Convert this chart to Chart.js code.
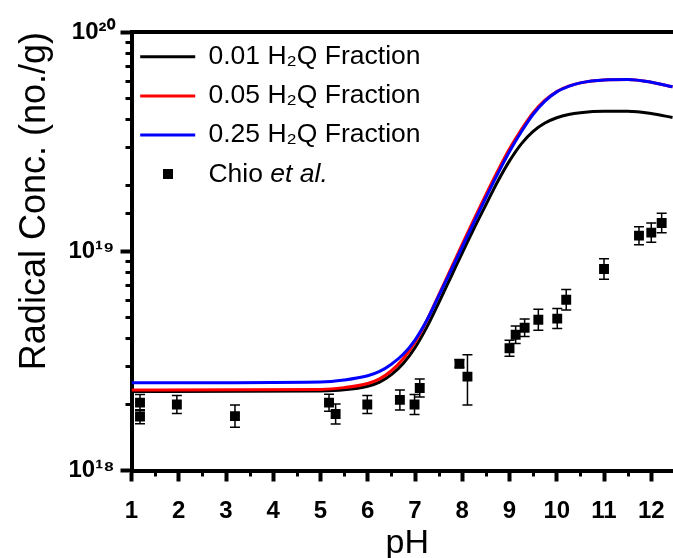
<!DOCTYPE html>
<html><head><meta charset="utf-8">
<script src="https://cdn.jsdelivr.net/npm/chart.js@4/dist/chart.umd.min.js"></script>
<style>
html,body{margin:0;padding:0;background:#fff;overflow:hidden;}
#wrap{width:673px;height:558px;overflow:hidden;position:relative;background:#fff;}
canvas{display:block;}
</style></head><body>
<div id="wrap"><canvas id="c" width="690" height="558"></canvas></div>
<script>
// ---------- data ----------
const curvePH = [1, 5, 5.5, 6, 6.25, 6.5, 6.75, 7, 7.25, 7.5, 7.75, 8, 8.25, 8.5, 8.75, 9, 9.25, 9.5, 9.75, 10, 10.25, 10.5, 11, 11.5, 12, 12.45];
const frac001 = [2.291e18, 2.307e18, 2.333e18, 2.421e18, 2.529e18, 2.735e18, 3.076e18, 3.631e18, 4.508e18, 5.808e18, 7.551e18, 9.840e18, 1.2735e19, 1.6293e19, 2.0797e19, 2.5823e19, 3.0903e19, 3.5237e19, 3.8459e19, 4.0644e19, 4.2073e19, 4.2855e19, 4.3451e19, 4.3451e19, 4.2462e19, 4.0738e19];
const frac005 = [2.328e18, 2.344e18, 2.388e18, 2.495e18, 2.618e18, 2.851e18, 3.236e18, 3.846e18, 4.831e18, 6.310e18, 8.241e18, 1.0765e19, 1.3996e19, 1.8113e19, 2.3227e19, 2.9309e19, 3.5892e19, 4.2855e19, 4.8865e19, 5.3580e19, 5.6624e19, 5.8614e19, 6.04e19, 6.067e19, 5.902e19, 5.623e19];
const frac025 = [2.51e18, 2.535e18, 2.588e18, 2.704e18, 2.831e18, 3.055e18, 3.388e18, 3.936e18, 4.842e18, 6.237e18, 8.072e18, 1.047e19, 1.358e19, 1.758e19, 2.254e19, 2.851e19, 3.508e19, 4.217e19, 4.842e19, 5.333e19, 5.649e19, 5.861e19, 6.04e19, 6.067e19, 5.902e19, 5.623e19];

const chioPH   = [1.18, 1.18, 1.96, 3.19, 5.18, 5.32, 5.99, 6.68, 6.99, 7.10, 7.94, 8.11, 9.00, 9.13, 9.32, 9.61, 10.01, 10.20, 11.00, 11.74, 12.00, 12.22];
const chioVal  = [2.04e18, 1.76e18, 2.00e18, 1.77e18, 2.04e18, 1.81e18, 2.00e18, 2.10e18, 2.00e18, 2.38e18, 3.07e18, 2.68e18, 3.61e18, 4.16e18, 4.48e18, 4.87e18, 4.93e18, 6.01e18, 8.30e18, 1.178e19, 1.216e19, 1.345e19];
const chioLow  = [1.875e18, 1.635e18, 1.82e18, 1.575e18, 1.865e18, 1.63e18, 1.82e18, 1.89e18, 1.80e18, 2.165e18, 2.95e18, 1.99e18, 3.32e18, 3.80e18, 4.09e18, 4.36e18, 4.44e18, 5.40e18, 7.45e18, 1.072e19, 1.10e19, 1.214e19];
const chioHigh = [2.22e18, 1.895e18, 2.20e18, 1.99e18, 2.23e18, 2.01e18, 2.20e18, 2.33e18, 2.22e18, 2.615e18, 3.20e18, 3.37e18, 3.93e18, 4.56e18, 4.91e18, 5.44e18, 5.48e18, 6.69e18, 9.25e18, 1.295e19, 1.344e19, 1.49e19];

const seriesLabels = ['0.01 H\u2082Q Fraction', '0.05 H\u2082Q Fraction', '0.25 H\u2082Q Fraction', 'Chio'];
const chioItalic = 'et al.';
const seriesColors = ['#000000', '#ff0000', '#0000ff', '#000000'];
const xTitle = 'pH';
const yTitle = 'Radical Conc. (no./g)';
const xMin = 1, xMax = 12.67, xStep = 0.5;
const yMin = 1e18, yMax = 1e20;

// ---------- helpers ----------
const FAM = '"Liberation Sans", Arial, Helvetica, sans-serif';
const SUP = {'0':'\u2070','1':'\u00b9','2':'\u00b2','3':'\u00b3','4':'\u2074','5':'\u2075','6':'\u2076','7':'\u2077','8':'\u2078','9':'\u2079','-':'\u207b'};
const sup = (n) => String(n).split('').map(c => SUP[c]).join('');
const isDecade = (v) => { const e = Math.round(Math.log10(v)); return Math.abs(v / Math.pow(10, e) - 1) < 1e-6; };
const isWhole = (v) => Math.abs(v - Math.round(v)) < 1e-9;

const LEG_FS = 26.5, LEG_PAD = 12.7, LEG_W = 55;
const sq = document.createElement('canvas');
sq.width = 10; sq.height = 10;
(function(){ const c = sq.getContext('2d'); c.fillStyle = '#000'; c.fillRect(0, 0, 10, 10); })();

const pts = (xs, ys) => xs.map((x, i) => ({x: x, y: ys[i]}));

Chart.defaults.font.family = FAM;
Chart.defaults.color = '#000';

const legendShift = {
  id: 'legendShift',
  afterLayout(chart) {
    const lg = chart.legend; if (!lg) return;
    const a = chart.chartArea;
    const h = lg.bottom - lg.top, w = lg.right - lg.left;
    lg.left = a.left - 4; lg.right = lg.left + w;
    lg.top = a.top - 1.25; lg.bottom = lg.top + h;
  }
};

const errorBars = {
  id: 'errorBars',
  beforeDatasetDraw(chart, args) {
    if (args.index !== 3) return;
    const {ctx, scales: {x, y}} = chart;
    ctx.save();
    ctx.strokeStyle = '#000'; ctx.lineWidth = 1.5;
    chioPH.forEach((p, i) => {
      const px = x.getPixelForValue(p);
      const yl = y.getPixelForValue(chioLow[i]);
      const yh = y.getPixelForValue(chioHigh[i]);
      ctx.beginPath();
      ctx.moveTo(px, yl); ctx.lineTo(px, yh);
      ctx.moveTo(px - 5, yl); ctx.lineTo(px + 5, yl);
      ctx.moveTo(px - 5, yh); ctx.lineTo(px + 5, yh);
      ctx.stroke();
    });
    ctx.restore();
  }
};

const frameAndMinor = {
  id: 'frameAndMinor',
  afterDraw(chart) {
    const {ctx, chartArea: a, scales: {x, y}} = chart;
    ctx.save();
    ctx.strokeStyle = '#000';
    // top frame
    ctx.lineWidth = 4;
    ctx.beginPath(); ctx.moveTo(a.left, a.top); ctx.lineTo(chart.width, a.top); ctx.stroke();
    // minor ticks
    ctx.lineWidth = 3;
    ctx.beginPath();
    y.ticks.forEach(t => {
      if (isDecade(t.value)) return;
      const py = Math.round(y.getPixelForValue(t.value)) + 0.5;
      ctx.moveTo(a.left - 6, py); ctx.lineTo(a.left, py);
    });
    x.ticks.forEach(t => {
      if (isWhole(t.value)) return;
      const px = Math.round(x.getPixelForValue(t.value)) + 0.5;
      ctx.moveTo(px, a.bottom); ctx.lineTo(px, a.bottom + 6);
    });
    ctx.stroke();
    // italic part of the last legend entry
    const lg = chart.legend;
    const lineH = LEG_FS + LEG_PAD;
    const ty = lg.top + LEG_PAD + 3 * lineH + LEG_FS / 2;
    const tx = lg.left + LEG_PAD + LEG_W + LEG_FS / 2;
    ctx.font = LEG_FS + 'px ' + FAM;
    const w = ctx.measureText(seriesLabels[3] + ' ').width;
    ctx.font = 'italic ' + LEG_FS + 'px ' + FAM;
    ctx.fillStyle = '#000'; ctx.textBaseline = 'middle'; ctx.textAlign = 'left';
    ctx.fillText(chioItalic, tx + w, ty);
    ctx.restore();
  }
};

const lineDs = (i, ys, order) => ({
  type: 'line', label: seriesLabels[i], data: pts(curvePH, ys),
  borderColor: seriesColors[i], backgroundColor: seriesColors[i], borderWidth: 3,
  pointRadius: 0, pointHoverRadius: 0, fill: false, cubicInterpolationMode: 'monotone', order: order
});

new Chart(document.getElementById('c'), {
  type: 'line',
  data: {
    datasets: [
      lineDs(0, frac001, 3),
      lineDs(1, frac005, 2),
      lineDs(2, frac025, 1),
      {
        type: 'line', label: seriesLabels[3], data: pts(chioPH, chioVal), showLine: false,
        pointStyle: 'rect', pointRadius: 7, pointHoverRadius: 7, borderWidth: 0,
        backgroundColor: seriesColors[3], borderColor: seriesColors[3], order: 0
      }
    ]
  },
  options: {
    responsive: false, animation: false, devicePixelRatio: 1,
    layout: {padding: {top: 32, right: 6.5, left: 0, bottom: 0}},
    plugins: {
      tooltip: {enabled: false},
      legend: {
        position: 'chartArea', align: 'start',
        labels: {
          usePointStyle: true, pointStyleWidth: LEG_W, padding: LEG_PAD, color: '#000',
          font: {size: LEG_FS, family: FAM},
          generateLabels: (chart) => chart.data.datasets.map((ds, i) => ({
            text: ds.label, fillStyle: ds.backgroundColor, strokeStyle: ds.borderColor,
            lineWidth: i < 3 ? ds.borderWidth : 0, pointStyle: i < 3 ? 'line' : sq,
            hidden: false, datasetIndex: i, fontColor: '#000'
          }))
        }
      }
    },
    scales: {
      x: {
        type: 'linear', min: xMin, max: xMax,
        afterFit: (s) => { s.height = 87.5; },
        border: {display: true, color: '#000', width: 4},
        grid: {drawOnChartArea: false, drawTicks: true, tickLength: 11, tickWidth: 4,
               tickColor: (c) => (c.tick && isWhole(c.tick.value)) ? '#000' : 'rgba(0,0,0,0)'},
        ticks: {stepSize: xStep, autoSkip: false, maxRotation: 0, minRotation: 0, includeBounds: false,
                padding: 15, color: '#000', font: {size: 24, weight: 'bold', family: FAM},
                callback: (v) => isWhole(v) ? String(Math.round(v)) : ''},
        title: {display: true, text: xTitle, color: '#000', font: {size: 34, family: FAM}, padding: {top: 0, bottom: -6}}
      },
      y: {
        type: 'logarithmic', min: yMin, max: yMax,
        afterFit: (s) => { s.width = 131.5; },
        border: {display: true, color: '#000', width: 4},
        grid: {drawOnChartArea: false, drawTicks: true, tickLength: 11, tickWidth: 4,
               tickColor: (c) => (c.tick && isDecade(c.tick.value)) ? '#000' : 'rgba(0,0,0,0)'},
        ticks: {autoSkip: false, padding: 6, color: '#000', font: {size: 24, weight: 'bold', family: FAM},
                callback: (v) => isDecade(v) ? '10' + sup(Math.round(Math.log10(v))) : ''},
        title: {display: true, text: yTitle, align: 'end', color: '#000', font: {size: 36, family: FAM}, padding: {top: 13, bottom: 0}}
      }
    }
  },
  plugins: [legendShift, errorBars, frameAndMinor]
});
</script>
</body></html>
